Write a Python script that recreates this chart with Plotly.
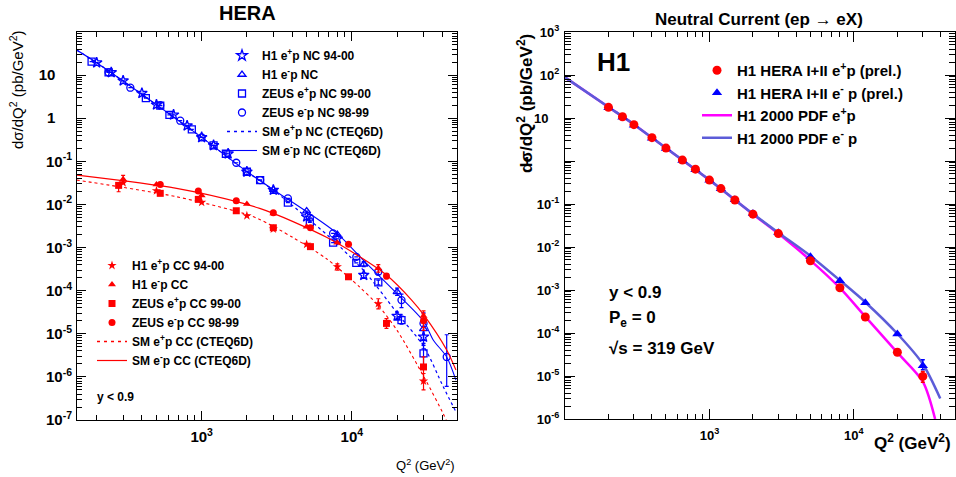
import plotly.graph_objects as go

# ================= LEFT PANEL (HERA) DATA =================
# Neutral current
h1_pos_nc_q2 = [200, 250, 300, 400, 500, 650, 800, 1000, 1200, 1500, 2000, 3000, 5000, 8000, 12000, 20000, 30000]
h1_pos_nc = [19.4, 11.5, 7.4, 3.8, 2.05, 1.2, 0.67, 0.36, 0.235, 0.15, 0.057, 0.0216, 0.0052, 0.0016, 2.3e-4, 2.58e-5, 8.5e-6]
h1_pos_nc_eu = [None] * 14 + [3e-5, 6e-6, 6e-6]
h1_pos_nc_ed = [None] * 14 + [3e-5, 5e-6, 4e-6]

h1_neg_nc_q2 = [3000, 5000, 8000, 12000, 20000, 30000]
h1_neg_nc = [0.022, 0.0070, 0.0020, 4.1e-4, 9.4e-5, 1.3e-5]
h1_neg_nc_eu = [None, None, None, 6e-5, 2e-5, 8e-6]
h1_neg_nc_ed = [None, None, None, 5e-5, 1.6e-5, 6e-6]

zeus_pos_nc_q2 = [185, 240, 425, 530, 610, 860, 1200, 1450, 2000, 2450, 3750, 5250, 7500, 10700, 15000, 21400, 30000]
zeus_pos_nc = [20.5, 11.6, 2.94, 1.95, 1.2, 0.552, 0.235, 0.15, 0.0574, 0.0368, 0.011, 0.00384, 0.0013, 4.4e-4, 1.56e-4, 2.08e-5, 3.5e-6]
zeus_pos_nc_eu = [None] * 14 + [2e-5, 5e-6, 2.5e-6]
zeus_pos_nc_ed = [None] * 14 + [2e-5, 4e-6, 1.8e-6]

zeus_neg_nc_q2 = [240, 335, 530, 720, 1000, 1700, 2450, 3750, 5250, 7500, 10700, 15000, 21400, 30000, 42800]
zeus_neg_nc = [11.6, 5.1, 2.0, 0.875, 0.36, 0.0927, 0.0368, 0.0138, 0.0049, 0.00213, 6.1e-4, 2.75e-4, 6.05e-5, 1.74e-5, 2.9e-6]
zeus_neg_nc_eu = [None] * 11 + [4e-5, 2.3e-5, 1.3e-5, 6.6e-6]
zeus_neg_nc_ed = [None] * 11 + [4e-5, 2.0e-5, 1.2e-5, 2.3e-6]

# Standard-model NC curves
sm_pos_nc_q2 = [147, 200, 300, 500, 1000, 2000, 3000, 5000, 7700, 10700, 12500, 20900, 30200, 40600, 49300]
sm_pos_nc = [38.2, 19.4, 7.3, 2.05, 0.36, 0.057, 0.0215, 0.0050, 0.00136, 4.4e-4, 2.5e-4, 2.5e-5, 5.0e-6, 5.9e-7, 1.55e-7]
sm_neg_nc_q2 = [147, 200, 300, 500, 1000, 2000, 3000, 5000, 8000, 11900, 19900, 30200, 34900, 42800, 49300]
sm_neg_nc = [38.2, 19.4, 7.3, 2.05, 0.36, 0.058, 0.022, 0.0068, 0.0021, 5.1e-4, 8.65e-5, 1.9e-5, 7.1e-6, 2.9e-6, 8.4e-7]

# Charged current
h1_pos_cc_q2 = [300, 500, 1000, 2000, 3000, 5000, 8000, 15000, 30000]
h1_pos_cc = [0.032, 0.0208, 0.0112, 0.00547, 0.0027, 0.00119, 3.6e-4, 5.0e-5, 8.0e-7]
h1_pos_cc_eu = [None, None, None, None, None, None, 6e-5, 1.5e-5, 4e-7]
h1_pos_cc_ed = [None, None, None, None, None, None, 6e-5, 1.2e-5, 3e-7]

h1_neg_cc_q2 = [300, 500, 1000, 2000, 3000, 5000, 8000, 15000, 30000]
h1_neg_cc = [0.0382, 0.029, 0.0162, 0.0102, 0.0062, 0.00304, 0.0013, 3.3e-4, 2.6e-5]
h1_neg_cc_eu = [0.009, None, None, None, None, None, None, 7e-5, 8e-6]
h1_neg_cc_ed = [0.007, None, None, None, None, None, None, 6e-5, 1.2e-5]

zeus_pos_cc_q2 = [280, 530, 950, 1700, 3000, 5300, 9500, 17000, 30000]
zeus_pos_cc = [0.0277, 0.0181, 0.0131, 0.00714, 0.00288, 0.00105, 2.1e-4, 1.74e-5, 1.7e-6]
zeus_pos_cc_eu = [0.004, None, None, None, None, None, None, 5e-6, 1.2e-6]
zeus_pos_cc_ed = [0.008, None, None, None, None, None, None, 4e-6, 9e-7]

zeus_neg_cc_q2 = [530, 950, 1700, 3000, 5300, 9500, 17000, 30000]
zeus_neg_cc = [0.029, 0.0205, 0.0122, 0.0064, 0.00288, 0.00119, 2.18e-4, 2.0e-5]
zeus_neg_cc_eu = [None, None, None, None, None, None, 3e-5, 9e-6]
zeus_neg_cc_ed = [None, None, None, None, None, None, 3e-5, 8e-6]

# Standard-model CC curves
sm_pos_cc_q2 = [147, 681, 1895, 2434, 4060, 6780, 11300, 15000, 20000, 30200, 40600, 42500]
sm_pos_cc = [0.0368, 0.0151, 0.0062, 0.0045, 0.0017, 5.5e-4, 1.2e-4, 4.5e-5, 1.2e-5, 1.0e-6, 1.4e-7, 1.0e-7]
sm_neg_cc_q2 = [147, 681, 1895, 2434, 3000, 4060, 6780, 11300, 17000, 25000, 30200, 42800, 49300]
sm_neg_cc = [0.048, 0.0236, 0.0106, 0.0081, 0.0062, 0.004, 0.00173, 6.1e-4, 2.3e-4, 6.05e-5, 2.7e-5, 4.2e-6, 1.44e-6]

# ================= RIGHT PANEL (H1 NC) DATA =================
h1ii_q2 = [200, 250, 300, 400, 500, 650, 800, 1000, 1200, 1500, 2000, 3000, 5000, 8000, 12000, 20000, 30000]
h1ii_pos = [17.7, 10.7, 7.0, 3.49, 2.0, 1.05, 0.645, 0.36, 0.228, 0.124, 0.058, 0.0205, 0.0048, 0.00113, 2.36e-4, 3.56e-5, 9.8e-6]
h1ii_neg = [17.3, 10.4, 6.8, 3.4, 1.95, 1.03, 0.63, 0.355, 0.225, 0.125, 0.060, 0.0215, 0.00596, 0.00165, 5.07e-4, 9.5e-5, 1.74e-5]
h1ii_pos_eu = [None] * 16 + [3e-6]
h1ii_pos_ed = [None] * 16 + [2.6e-6]
h1ii_neg_eu = [None] * 16 + [6.5e-6]
h1ii_neg_ed = [None] * 16 + [3.5e-6]

pdf_pos_q2 = [100, 200, 300, 500, 1000, 2000, 3000, 5000, 8000, 12000, 20000, 30000, 36500]
pdf_pos = [88, 18, 7.1, 2.0, 0.36, 0.058, 0.0205, 0.0049, 0.00112, 2.4e-4, 3.5e-5, 7.4e-6, 1.0e-6]
pdf_neg_q2 = [100, 200, 300, 500, 1000, 2000, 3000, 5000, 8000, 12000, 20000, 30000, 39600]
pdf_neg = [88, 18, 7.1, 2.0, 0.36, 0.059, 0.0215, 0.0062, 0.00168, 5.2e-4, 9.6e-5, 1.9e-5, 3.0e-6]

# tick labels
left_y_ticktext = ["10<sup>-7</sup>", "10<sup>-6</sup>", "10<sup>-5</sup>", "10<sup>-4</sup>", "10<sup>-3</sup>",
                   "10<sup>-2</sup>", "10<sup>-1</sup>", "1&nbsp;&nbsp;&nbsp;&nbsp;", "10&nbsp;&nbsp;&nbsp;&nbsp;", " "]
right_y_ticktext = ["10<sup>-6</sup>", "10<sup>-5</sup>", "10<sup>-4</sup>", "10<sup>-3</sup>", "10<sup>-2</sup>",
                    "10<sup>-1</sup>", "1" + "&nbsp;" * 8, "10&nbsp;&nbsp;&nbsp;", "10<sup>2</sup>", "10<sup>3</sup>"]
x_ticktext = ["10<sup>3</sup>", "10<sup>4</sup>"]

# ================= FIGURE =================
W, H = 956, 477
FONT = "Liberation Sans, Arial, Helvetica, sans-serif"
BLUE = "#0000ff"
RED = "#ff0000"

def px_x(p):
    return p / W

def px_y(p):
    return 1 - p / H

fig = go.Figure()

def err(up, dn, color, width=1.2, cap=2):
    return dict(type="data", symmetric=False, array=up, arrayminus=dn,
                color=color, thickness=width, width=cap)

def proxy_line(name, color, dash, width, legend):
    fig.add_trace(go.Scatter(x=[None], y=[None], mode="lines", name=name,
                             line=dict(color=color, width=width, dash=dash),
                             xaxis="x", yaxis="y", legend=legend))

# --- left NC data ---
fig.add_trace(go.Scatter(x=h1_pos_nc_q2, y=h1_pos_nc, mode="markers", name="H1 e<sup>+</sup>p NC 94-00",
                         marker=dict(symbol="star-open", size=8, color=BLUE, line=dict(width=1.3, color=BLUE)),
                         error_y=err(h1_pos_nc_eu, h1_pos_nc_ed, BLUE), xaxis="x", yaxis="y", legend="legend"))
fig.add_trace(go.Scatter(x=h1_neg_nc_q2, y=h1_neg_nc, mode="markers", name="H1 e<sup>-</sup>p NC",
                         marker=dict(symbol="triangle-up-open", size=7, color=BLUE, line=dict(width=1.3, color=BLUE)),
                         error_y=err(h1_neg_nc_eu, h1_neg_nc_ed, BLUE), xaxis="x", yaxis="y", legend="legend"))
fig.add_trace(go.Scatter(x=zeus_pos_nc_q2, y=zeus_pos_nc, mode="markers", name="ZEUS e<sup>+</sup>p NC 99-00",
                         marker=dict(symbol="square-open", size=7, color=BLUE, line=dict(width=1.3, color=BLUE)),
                         error_y=err(zeus_pos_nc_eu, zeus_pos_nc_ed, BLUE), xaxis="x", yaxis="y", legend="legend"))
fig.add_trace(go.Scatter(x=zeus_neg_nc_q2, y=zeus_neg_nc, mode="markers", name="ZEUS e<sup>-</sup>p NC 98-99",
                         marker=dict(symbol="circle-open", size=7, color=BLUE, line=dict(width=1.3, color=BLUE)),
                         error_y=err(zeus_neg_nc_eu, zeus_neg_nc_ed, BLUE), xaxis="x", yaxis="y", legend="legend"))
fig.add_trace(go.Scatter(x=sm_pos_nc_q2, y=sm_pos_nc, mode="lines", name="SM e<sup>+</sup>p NC (CTEQ6D)",
                         line=dict(color=BLUE, width=1.2, dash="dot", shape="spline", smoothing=0.8),
                         xaxis="x", yaxis="y", showlegend=False))
proxy_line("SM e<sup>+</sup>p NC (CTEQ6D)", BLUE, "3px,4px", 1.6, "legend")
fig.add_trace(go.Scatter(x=sm_neg_nc_q2, y=sm_neg_nc, mode="lines", name="SM e<sup>-</sup>p NC (CTEQ6D)",
                         line=dict(color=BLUE, width=1.1, shape="spline", smoothing=0.8),
                         xaxis="x", yaxis="y", legend="legend"))

# --- left CC data ---
fig.add_trace(go.Scatter(x=h1_pos_cc_q2, y=h1_pos_cc, mode="markers", name="H1 e<sup>+</sup>p CC 94-00",
                         marker=dict(symbol="star", size=7, color=RED),
                         error_y=err(h1_pos_cc_eu, h1_pos_cc_ed, RED), xaxis="x", yaxis="y", legend="legend2"))
fig.add_trace(go.Scatter(x=h1_neg_cc_q2, y=h1_neg_cc, mode="markers", name="H1 e<sup>-</sup>p CC",
                         marker=dict(symbol="triangle-up", size=7, color=RED),
                         error_y=err(h1_neg_cc_eu, h1_neg_cc_ed, RED), xaxis="x", yaxis="y", legend="legend2"))
fig.add_trace(go.Scatter(x=zeus_pos_cc_q2, y=zeus_pos_cc, mode="markers", name="ZEUS e<sup>+</sup>p CC 99-00",
                         marker=dict(symbol="square", size=7, color=RED),
                         error_y=err(zeus_pos_cc_eu, zeus_pos_cc_ed, RED), xaxis="x", yaxis="y", legend="legend2"))
fig.add_trace(go.Scatter(x=zeus_neg_cc_q2, y=zeus_neg_cc, mode="markers", name="ZEUS e<sup>-</sup>p CC 98-99",
                         marker=dict(symbol="circle", size=7, color=RED),
                         error_y=err(zeus_neg_cc_eu, zeus_neg_cc_ed, RED), xaxis="x", yaxis="y", legend="legend2"))
fig.add_trace(go.Scatter(x=sm_pos_cc_q2, y=sm_pos_cc, mode="lines", name="SM e<sup>+</sup>p CC (CTEQ6D)",
                         line=dict(color=RED, width=1.1, dash="dot", shape="spline", smoothing=0.8),
                         xaxis="x", yaxis="y", showlegend=False))
proxy_line("SM e<sup>+</sup>p CC (CTEQ6D)", RED, "3px,4px", 1.6, "legend2")
fig.add_trace(go.Scatter(x=sm_neg_cc_q2, y=sm_neg_cc, mode="lines", name="SM e<sup>-</sup>p CC (CTEQ6D)",
                         line=dict(color=RED, width=1.2, shape="spline", smoothing=0.8),
                         xaxis="x", yaxis="y", legend="legend2"))

# --- right panel ---
MAG = "#ff00ff"
SLATE = "#5c5cd8"
fig.add_trace(go.Scatter(x=pdf_pos_q2, y=pdf_pos, mode="lines", name="H1 2000 PDF e<sup>+</sup>p",
                         line=dict(color=MAG, width=2.5, shape="spline", smoothing=0.8),
                         xaxis="x2", yaxis="y2", legend="legend3", showlegend=False))
fig.add_trace(go.Scatter(x=pdf_neg_q2, y=pdf_neg, mode="lines", name="H1 2000 PDF e<sup>-</sup> p",
                         line=dict(color=SLATE, width=2.5, shape="spline", smoothing=0.8),
                         xaxis="x2", yaxis="y2", legend="legend3", showlegend=False))
fig.add_trace(go.Scatter(x=h1ii_q2, y=h1ii_neg, mode="markers", name="H1 HERA I+II e<sup>-</sup> p (prel.)",
                         marker=dict(symbol="triangle-up", size=9, color=BLUE),
                         error_y=err(h1ii_neg_eu, h1ii_neg_ed, BLUE, 1.5, 2),
                         xaxis="x2", yaxis="y2", legend="legend3", showlegend=False))
fig.add_trace(go.Scatter(x=h1ii_q2, y=h1ii_pos, mode="markers", name="H1 HERA I+II e<sup>+</sup>p (prel.)",
                         marker=dict(symbol="circle", size=9, color=RED),
                         error_y=err(h1ii_pos_eu, h1ii_pos_ed, RED, 1.5, 2),
                         xaxis="x2", yaxis="y2", legend="legend3", showlegend=False))
# legend-only proxies in the reference order
for nm, kw in [("H1 HERA I+II e<sup>+</sup>p (prel.)", dict(mode="markers", marker=dict(symbol="circle", size=9, color=RED))),
               ("H1 HERA I+II e<sup>-</sup> p (prel.)", dict(mode="markers", marker=dict(symbol="triangle-up", size=9, color=BLUE))),
               ("H1 2000 PDF e<sup>+</sup>p", dict(mode="lines", line=dict(color=MAG, width=2.5))),
               ("H1 2000 PDF e<sup>-</sup> p", dict(mode="lines", line=dict(color=SLATE, width=2.5)))]:
    fig.add_trace(go.Scatter(x=[None], y=[None], name=nm, xaxis="x2", yaxis="y2", legend="legend3", **kw))

# ---------------- axes ----------------
def minor_vals(lo, hi):
    vals = []
    for e in range(lo, hi + 1):
        for m in range(2, 10):
            vals.append(m * 10 ** e)
    return vals

axis_common = dict(type="log", showgrid=False, zeroline=False, showline=True, linecolor="black",
                   linewidth=1, ticks="inside", mirror="allticks", tickcolor="black", tickwidth=1,
                   automargin=False)

fig.update_layout(
    xaxis=dict(axis_common, domain=[px_x(77), px_x(457)], range=[2.17, 4.70],
               tickvals=[1000, 10000], ticktext=x_ticktext, ticklen=9,
               tickfont=dict(family=FONT, size=15, color="black", weight="bold"), anchor="y",
               minor=dict(tickvals=minor_vals(2, 4), ticks="inside", ticklen=5, tickcolor="black", showgrid=False),
               ticklabelstandoff=3),
    yaxis=dict(axis_common, domain=[px_y(420), px_y(32)], range=[-7, 2],
               tickvals=[1e-7, 1e-6, 1e-5, 1e-4, 1e-3, 1e-2, 1e-1, 1, 10, 100],
               ticktext=left_y_ticktext, ticklen=9,
               tickfont=dict(family=FONT, size=15, color="black", weight="bold"), anchor="x",
               minor=dict(tickvals=minor_vals(-7, 1), ticks="inside", ticklen=5, tickcolor="black", showgrid=False),
               ticklabelstandoff=1),
    xaxis2=dict(axis_common, domain=[px_x(565), px_x(955)], range=[2.0, 4.7],
                tickvals=[1000, 10000], ticktext=x_ticktext, ticklen=10,
                tickfont=dict(family=FONT, size=13, color="black", weight="bold"), anchor="y2",
                minor=dict(tickvals=minor_vals(2, 4), ticks="inside", ticklen=5, tickcolor="black", showgrid=False),
                ticklabelstandoff=4),
    yaxis2=dict(axis_common, domain=[px_y(419), px_y(32)], range=[-6, 3],
                tickvals=[1e-6, 1e-5, 1e-4, 1e-3, 1e-2, 1e-1, 1, 10, 100, 1000],
                ticktext=right_y_ticktext, ticklen=10,
                tickfont=dict(family=FONT, size=13, color="black", weight="bold"), anchor="x2",
                minor=dict(tickvals=minor_vals(-6, 2), ticks="inside", ticklen=6, tickcolor="black", showgrid=False),
                ticklabelstandoff=2),
)

leg_common = dict(bgcolor="rgba(0,0,0,0)", borderwidth=0, xanchor="left", yanchor="top",
                  traceorder="normal", tracegroupgap=0, itemclick=False)
fig.update_layout(
    legend=dict(leg_common, x=px_x(222), y=px_y(41), font=dict(family=FONT, size=12, color="black", weight="bold")),
    legend2=dict(leg_common, x=px_x(92), y=px_y(251), font=dict(family=FONT, size=12, color="black", weight="bold")),
    legend3=dict(leg_common, x=px_x(697), y=px_y(54), font=dict(family=FONT, size=15, color="black", weight="bold")),
)

ann = []
def add_text(text, x, y, size, bold=True, xanchor="center", yanchor="middle", angle=0):
    ann.append(dict(text=text, x=px_x(x), y=px_y(y), xref="paper", yref="paper", showarrow=False,
                    xanchor=xanchor, yanchor=yanchor, textangle=angle,
                    font=dict(family=FONT, size=size, color="black", weight="bold" if bold else "normal")))

add_text("HERA", 247, 13, 20)
add_text("Neutral Current (ep \u2192 eX)", 759, 20, 17)
add_text("d\u03c3/dQ<sup>2</sup> (pb/GeV<sup>2</sup>)", 17, 90, 15, bold=False, angle=-90)
add_text("d\u03c3/dQ<sup>2</sup> (pb/GeV<sup>2</sup>)", 525, 104, 17, angle=-90)
add_text("Q<sup>2</sup> (GeV<sup>2</sup>)", 457, 465, 13, bold=False, xanchor="right")
add_text("Q<sup>2</sup> (GeV<sup>2</sup>)", 953, 442, 17, xanchor="right")
add_text("y < 0.9", 95, 397, 12, xanchor="left")
add_text("H1", 613, 62, 26)
add_text("y < 0.9", 607, 292, 17, xanchor="left")
add_text("P<sub>e</sub> = 0", 607, 319, 17, xanchor="left")
add_text("\u221as = 319 GeV", 607, 348, 17, xanchor="left")

fig.update_layout(
    width=W, height=H, margin=dict(l=0, r=0, t=0, b=0, autoexpand=False),
    paper_bgcolor="white", plot_bgcolor="white",
    annotations=ann, font=dict(family=FONT, color="black"),
)

fig.write_html("out.html", config={"displayModeBar": False},
               post_script="document.body.style.margin='0px';document.body.style.overflow='hidden';")
